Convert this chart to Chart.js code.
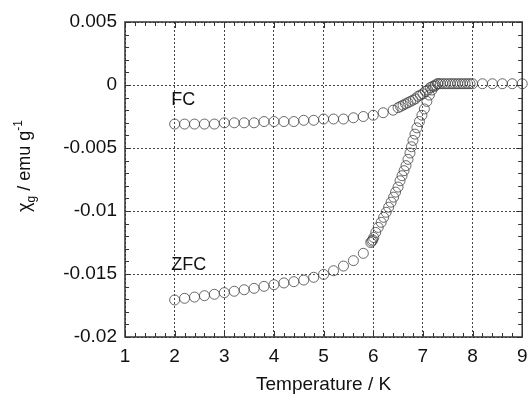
<!DOCTYPE html>
<html>
<head>
<meta charset="utf-8">
<script src="https://cdn.jsdelivr.net/npm/chart.js@4.4.1/dist/chart.umd.min.js"></script>
<style>
  html, body { margin: 0; padding: 0; background: #fff; }
  #wrap { width: 528px; height: 394px; position: relative; }
</style>
</head>
<body>
<div id="wrap"><canvas id="chi"></canvas></div>
<script>
// field-cooled curve
const fcT = [2.0, 2.2, 2.4, 2.6, 2.8, 3.0, 3.2, 3.4, 3.6, 3.8, 4.0, 4.2, 4.4, 4.6, 4.8,
  5.0, 5.2, 5.4, 5.6, 5.8, 6.0, 6.2, 6.4, 6.5, 6.55, 6.6, 6.65, 6.7, 6.75, 6.8, 6.85,
  6.9, 6.95, 7.0, 7.05, 7.1, 7.15, 7.2, 7.25, 7.3, 7.35, 7.4, 7.45, 7.5, 7.55, 7.6,
  7.65, 7.7, 7.75, 7.8, 7.85, 7.9, 7.95, 8.0, 8.2, 8.4, 8.6, 8.8, 9.0];
const fcChi = [-0.0031, -0.0031, -0.0031, -0.0031, -0.0031, -0.0030, -0.0030, -0.0030,
  -0.0030, -0.0029, -0.0029, -0.0029, -0.0029, -0.0028, -0.0028, -0.0027, -0.0027,
  -0.0027, -0.0026, -0.0025, -0.0024, -0.0022, -0.0020, -0.0018, -0.0017, -0.0016,
  -0.0015, -0.0014, -0.0013, -0.0012, -0.0011, -0.0009, -0.0008, -0.0007, -0.0005,
  -0.0004, -0.0002, -0.0001, 0.0000, 0.0001, 0.0001, 0.0001, 0.0001, 0.0001, 0.0001,
  0.0001, 0.0001, 0.0001, 0.0001, 0.0001, 0.0001, 0.0001, 0.0001, 0.0001, 0.0001,
  0.0001, 0.0001, 0.0001, 0.0001];

// zero-field-cooled curve
const zfcT = [2.0, 2.2, 2.4, 2.6, 2.8, 3.0, 3.2, 3.4, 3.6, 3.8, 4.0, 4.2, 4.4, 4.6, 4.8,
  5.0, 5.2, 5.4, 5.6, 5.8, 5.95, 5.97, 5.99, 6.01, 6.05, 6.1, 6.16, 6.21, 6.26, 6.31,
  6.36, 6.41, 6.45, 6.5, 6.54, 6.58, 6.62, 6.66, 6.7, 6.74, 6.77, 6.8, 6.84, 6.88,
  6.93, 6.98, 7.03, 7.08, 7.13, 7.18, 7.24, 7.3];
const zfcChi = [-0.01706, -0.01693, -0.01683, -0.01672, -0.01661, -0.01648, -0.01637,
  -0.01625, -0.01614, -0.01598, -0.01585, -0.01571, -0.01561, -0.01548, -0.01526,
  -0.01503, -0.01474, -0.01437, -0.01394, -0.01336, -0.0125, -0.0124, -0.0123, -0.0121,
  -0.0117, -0.0113, -0.0109, -0.0105, -0.0101, -0.0097, -0.0093, -0.0089, -0.0085,
  -0.0081, -0.0076, -0.0072, -0.0068, -0.0064, -0.0059, -0.0054, -0.0049, -0.0044,
  -0.0039, -0.0034, -0.0029, -0.0024, -0.0019, -0.0013, -0.0008, -0.0004, -0.0001, 0.0001];

// axes
const X_MIN = 1, X_MAX = 9, X_STEP = 1, X_MINOR = 0.2;
const Y_MIN = -0.02, Y_MAX = 0.005, Y_STEP = 0.005, Y_MINOR = 0.001;

// curve labels: [text, T, chi]
const curveLabels = [['FC', 1.93, -0.0012], ['ZFC', 1.93, -0.0143]];

const FONT = "'Liberation Sans', Arial, sans-serif";
const INK = '#333';

function toPoints(xs, ys) {
  return xs.map((t, i) => ({ x: t, y: ys[i] }));
}

// box around the plot with inward major/minor ticks on all four sides
const frameTicks = {
  id: 'frameTicks',
  afterDraw(chart) {
    const { ctx, chartArea: a, scales: { x, y } } = chart;
    ctx.save();
    ctx.strokeStyle = INK;
    ctx.lineWidth = 1;
    ctx.beginPath();
    const nx = Math.round((X_MAX - X_MIN) / X_MINOR);
    for (let i = 0; i <= nx; i++) {
      const v = X_MIN + i * X_MINOR;
      const major = Math.abs(v / X_STEP - Math.round(v / X_STEP)) < 1e-6;
      const len = major ? 6 : 4;
      const px = Math.round(x.getPixelForValue(v)) + 0.5;
      ctx.moveTo(px, a.bottom); ctx.lineTo(px, a.bottom - len);
      ctx.moveTo(px, a.top); ctx.lineTo(px, a.top + len);
    }
    const ny = Math.round((Y_MAX - Y_MIN) / Y_MINOR);
    for (let i = 0; i <= ny; i++) {
      const v = Y_MIN + i * Y_MINOR;
      const major = Math.abs(v / Y_STEP - Math.round(v / Y_STEP)) < 1e-6;
      const len = major ? 6 : 4;
      const py = Math.round(y.getPixelForValue(v)) + 0.5;
      ctx.moveTo(a.left, py); ctx.lineTo(a.left + len, py);
      ctx.moveTo(a.right, py); ctx.lineTo(a.right - len, py);
    }
    ctx.stroke();
    ctx.lineWidth = 1.5;
    ctx.strokeRect(a.left, a.top, a.right - a.left, a.bottom - a.top);

    // FC / ZFC
    ctx.fillStyle = '#111';
    ctx.font = '18px ' + FONT;
    ctx.textAlign = 'left';
    ctx.textBaseline = 'middle';
    curveLabels.forEach(([txt, t, c]) => {
      ctx.fillText(txt, x.getPixelForValue(t), y.getPixelForValue(c));
    });

    // y title: chi_g / emu g^-1, rotated
    ctx.translate(30, 166);
    ctx.rotate(-Math.PI / 2);
    ctx.textBaseline = 'alphabetic';
    const big = '18px ' + FONT, small = '12px ' + FONT;
    const parts = [
      ['χ', big, 0], ['g', small, 5], [' / emu g', big, 0], ['-1', small, -8]
    ];
    let total = 0;
    parts.forEach(p => { ctx.font = p[1]; total += ctx.measureText(p[0]).width; });
    let cx = -total / 2;
    parts.forEach(p => {
      ctx.font = p[1];
      ctx.fillText(p[0], cx, p[2]);
      cx += ctx.measureText(p[0]).width;
    });
    ctx.restore();
  }
};

const pointStyle = {
  showLine: false,
  pointRadius: 5,
  pointHoverRadius: 5,
  pointBorderWidth: 0.8,
  pointBorderColor: '#444',
  pointBackgroundColor: 'rgba(0,0,0,0)',
  clip: false
};

new Chart(document.getElementById('chi'), {
  type: 'scatter',
  data: {
    datasets: [
      Object.assign({ label: 'FC', data: toPoints(fcT, fcChi) }, pointStyle),
      Object.assign({ label: 'ZFC', data: toPoints(zfcT, zfcChi) }, pointStyle)
    ]
  },
  options: {
    responsive: true,
    maintainAspectRatio: false,
    animation: false,
    layout: { padding: { top: 22, right: 5, left: 0, bottom: 0 } },
    plugins: { legend: { display: false }, tooltip: { enabled: false } },
    scales: {
      x: {
        type: 'linear',
        min: X_MIN, max: X_MAX,
        ticks: { stepSize: X_STEP, padding: 8, color: '#111', font: { family: FONT, size: 19 } },
        grid: { color: '#444', lineWidth: 1, drawTicks: false },
        border: { display: false, dash: [2, 2] },
        title: {
          display: true, text: 'Temperature / K', color: '#111',
          font: { family: FONT, size: 19, lineHeight: 1 },
          padding: { top: 0, bottom: 0 }
        },
        afterFit: s => { s.height = 57; s.paddingLeft = 0; s.paddingRight = 0; }
      },
      y: {
        type: 'linear',
        min: Y_MIN, max: Y_MAX,
        ticks: {
          stepSize: Y_STEP, padding: 8, color: '#111',
          font: { family: FONT, size: 19 },
          callback: v => String(+(+v).toFixed(3))
        },
        grid: { color: '#444', lineWidth: 1, drawTicks: false },
        border: { display: false, dash: [2, 2] },
        afterFit: s => { s.width = 125; s.paddingTop = 0; s.paddingBottom = 0; }
      }
    }
  },
  plugins: [frameTicks]
});
</script>
</body>
</html>
